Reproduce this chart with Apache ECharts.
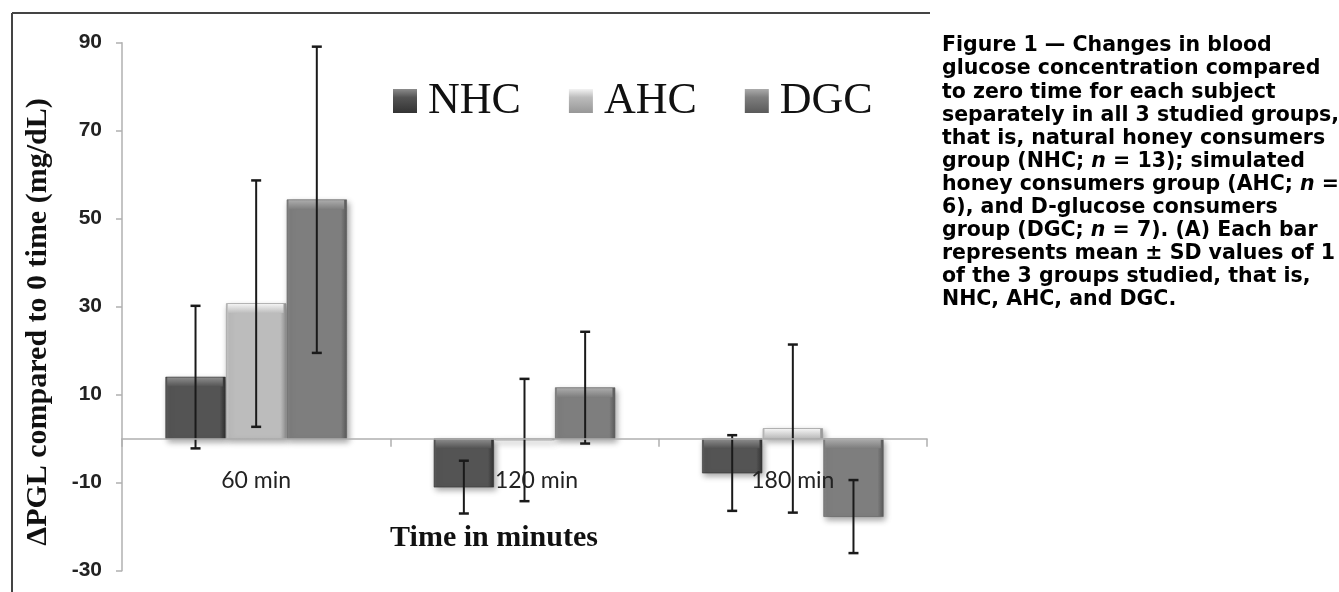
<!DOCTYPE html>
<html>
<head>
<meta charset="utf-8">
<script src="https://cdn.jsdelivr.net/npm/echarts@6/dist/echarts.min.js"></script>
<style>html,body{margin:0;padding:0;background:#fff;}#c{width:1339px;height:592px;}</style>
</head>
<body>
<div id="c"></div>
<script>
// ---- data ----
const categories = ['60 min', '120 min', '180 min'];
const seriesNames = ['NHC', 'AHC', 'DGC'];
const nhcMean = [14.0, -11.0, -7.8];
const nhcSD   = [16.2, 6.0, 8.6];
const ahcMean = [30.7, -0.3, 2.3];
const ahcSD   = [28.0, 13.9, 19.1];
const dgcMean = [54.3, 11.6, -17.7];
const dgcSD   = [34.8, 12.7, 8.3];
const yTicks = { min: -30, max: 90, interval: 20 };
const captionLines = [
  'Figure 1 \u2014 Changes in blood',
  'glucose concentration compared',
  'to zero time for each subject',
  'separately in all 3 studied groups,',
  'that is, natural honey consumers',
  'group (NHC; {i|n} = 13); simulated',
  'honey consumers group (AHC; {i|n} =',
  '6), and D-glucose consumers',
  'group (DGC; {i|n} = 7). (A) Each bar',
  'represents mean \u00b1 SD values of 1',
  'of the 3 groups studied, that is,',
  'NHC, AHC, and DGC.'
];

// ---- styles ----
const palette = [
  { body: '#545454', edgeL: '#5e5e5e', edgeR: '#333333', hi: '#8c8c8c' },
  { body: '#bcbcbc', edgeL: '#c8c8c8', edgeR: '#979797', hi: '#f2f2f2' },
  { body: '#7e7e7e', edgeL: '#888888', edgeR: '#5a5a5a', hi: '#ababab' }
];

const chart = echarts.init(document.getElementById('c'), null, { renderer: 'canvas' });

function makeRender(k) {
  const p = palette[k];
  return function (params, api) {
    const idx = api.value(0), mean = api.value(1), sd = api.value(2);
    const band = api.size([1, 0])[0];
    const bw = band * 0.222, gap = band * 0.004;
    const z0 = api.coord([idx, 0]);
    const zv = api.coord([idx, mean]);
    const cx = z0[0] + (k - 1) * (bw + gap);
    const x0 = cx - bw / 2;
    const y = Math.min(z0[1], zv[1]);
    const h = Math.max(Math.abs(zv[1] - z0[1]), 0.8);
    const hiH = Math.min(9, h);
    const eTop = api.coord([idx, mean + sd]);
    const eBot = api.coord([idx, mean - sd]);
    const cap = 5;
    return {
      type: 'group',
      children: [
        { type: 'rect', shape: { x: x0, y: y, width: bw, height: h },
          style: { fill: new echarts.graphic.LinearGradient(0, 0, 1, 0, [
              { offset: 0, color: p.edgeL }, { offset: 0.06, color: p.body },
              { offset: 0.9, color: p.body }, { offset: 1, color: p.edgeR }]),
            stroke: p.edgeR, lineWidth: 0.6,
            shadowBlur: 6, shadowColor: 'rgba(0,0,0,0.35)', shadowOffsetX: 2, shadowOffsetY: 3 } },
        { type: 'rect', shape: { x: x0 + 1.5, y: y + 0.5, width: bw - 4, height: hiH },
          style: { fill: new echarts.graphic.LinearGradient(0, 0, 0, 1, [
              { offset: 0, color: p.hi }, { offset: 1, color: p.body }]) } },
        { type: 'line', shape: { x1: cx, y1: eTop[1], x2: cx, y2: eBot[1] },
          style: { stroke: '#1a1a1a', lineWidth: 2 } },
        { type: 'line', shape: { x1: cx - cap, y1: eTop[1], x2: cx + cap, y2: eTop[1] },
          style: { stroke: '#1a1a1a', lineWidth: 2.5 } },
        { type: 'line', shape: { x1: cx - cap, y1: eBot[1], x2: cx + cap, y2: eBot[1] },
          style: { stroke: '#1a1a1a', lineWidth: 2.5 } }
      ]
    };
  };
}

const means = [nhcMean, ahcMean, dgcMean];
const sds = [nhcSD, ahcSD, dgcSD];
const series = seriesNames.map(function (name, k) {
  const p = palette[k];
  return {
    name: name,
    type: 'custom',
    renderItem: makeRender(k),
    encode: { x: 0, y: [1] },
    itemStyle: { color: new echarts.graphic.LinearGradient(0, 0, 0, 1, [
      { offset: 0, color: p.hi }, { offset: 0.35, color: p.body }, { offset: 1, color: p.edgeR }]) },
    data: categories.map(function (c, i) {
      return [i, means[k][i], sds[k][i], means[k][i] + sds[k][i], means[k][i] - sds[k][i]];
    }),
    dimensions: ['cat', 'mean', 'sd', 'hi', 'lo'],
    z: 3
  };
});

const graphics = [
  { type: 'line', shape: { x1: 12, y1: 13, x2: 12, y2: 592 }, style: { stroke: '#444', lineWidth: 2 } },
  { type: 'line', shape: { x1: 12, y1: 13, x2: 930, y2: 13 }, style: { stroke: '#444', lineWidth: 2 } },
  { type: 'text', x: 494, y: 538, style: { text: 'Time in minutes', fontFamily: '"Liberation Serif", serif',
      fontWeight: 'bold', fontSize: 30, fill: '#111', align: 'center', verticalAlign: 'middle' } },
  { type: 'text', x: 38, y: 322, rotation: Math.PI / 2,
    style: { text: '\u0394PGL compared to 0 time (mg/dL)', fontFamily: '"Liberation Serif", serif',
      fontWeight: 'bold', fontSize: 30, fill: '#111', align: 'center', verticalAlign: 'middle' } }
];
captionLines.forEach(function (t, i) {
  graphics.push({ type: 'text', x: 942, y: 46 + i * 23.1,
    style: { text: t, fontFamily: '"DejaVu Sans", sans-serif', fontWeight: 'bold', fontSize: 20.5,
      fill: '#000', align: 'left', verticalAlign: 'middle',
      rich: { i: { fontFamily: '"DejaVu Sans", sans-serif', fontWeight: 'bold', fontStyle: 'italic',
        fontSize: 20.5, fill: '#000' } } } });
});

const labelFont = { fontFamily: 'Lato, sans-serif', fontSize: 23, color: '#222' };

chart.setOption({
  backgroundColor: '#ffffff',
  animation: false,
  grid: { left: 122, right: 412, top: 42.7, bottom: 21.3, containLabel: false, outerBoundsMode: 'none' },
  legend: {
    data: seriesNames, left: 393, top: 79, padding: 0, icon: 'rect',
    itemWidth: 24, itemHeight: 24, itemGap: 48, selectedMode: false,
    textStyle: { fontFamily: '"Liberation Serif", serif', fontSize: 44, color: '#111',
      lineHeight: 44, padding: [0, 0, 0, 6] }
  },
  xAxis: {
    type: 'category', data: categories, z: 4,
    axisLine: { onZero: true, lineStyle: { color: '#b0b0b0', width: 1.5 } },
    axisTick: { show: true, length: 8, lineStyle: { color: '#b0b0b0', width: 1.5 } },
    axisLabel: Object.assign({
      margin: -102,
      formatter: function (v, i) { return i === 1 ? '{s|' + v + '}' : '{n|' + v + '}'; },
      rich: {
        n: Object.assign({}, labelFont),
        s: Object.assign({ padding: [0, 0, 0, 24] }, labelFont)
      }
    }, labelFont),
    splitLine: { show: false }
  },
  yAxis: {
    type: 'value', min: yTicks.min, max: yTicks.max, interval: yTicks.interval,
    axisLine: { show: true, lineStyle: { color: '#b0b0b0', width: 1.5 } },
    axisTick: { show: true, length: 6, lineStyle: { color: '#b0b0b0', width: 1.5 } },
    axisLabel: { fontFamily: '"Liberation Sans", Arial, sans-serif', fontWeight: 'bold', fontSize: 21,
      color: '#222', margin: 20 },
    splitLine: { show: false }
  },
  graphic: graphics,
  series: series
});
</script>
</body>
</html>
